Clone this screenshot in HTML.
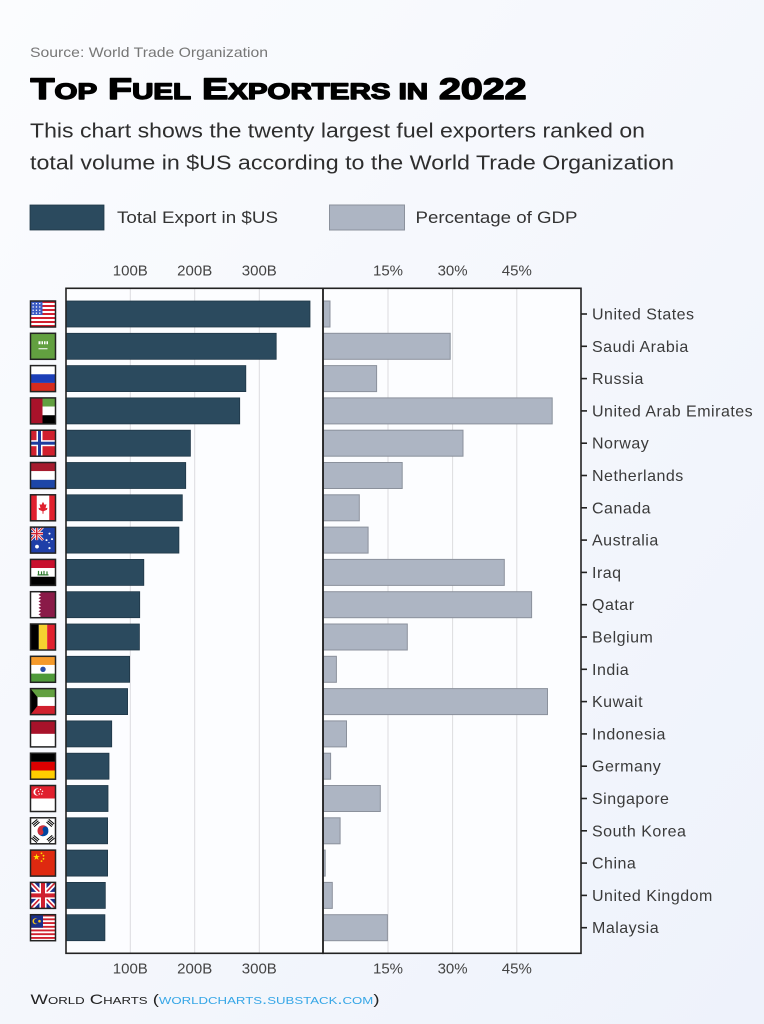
<!DOCTYPE html>
<html><head><meta charset="utf-8"><style>
html,body{margin:0;padding:0;}
body{width:764px;height:1024px;overflow:hidden;background:#f4f6fb;}
svg{display:block;}
.d{fill:#2b4a5e;stroke:#1f3747;stroke-width:0.8;}
.g{fill:#adb5c3;stroke:#8b919c;stroke-width:1;}
.tk{stroke:#222;stroke-width:1.6;}
.lb{font-family:"Liberation Sans",sans-serif;font-size:16px;fill:#3a3a3a;letter-spacing:0.5px;}
.ax{font-family:"Liberation Sans",sans-serif;font-size:15px;fill:#444;text-anchor:middle;}
.gr{stroke:#dcdcdf;stroke-width:1;}
.fb{fill:none;stroke:#222;stroke-width:1.5;}
</style></head><body>
<svg width="764" height="1024" viewBox="0 0 764 1024" xmlns="http://www.w3.org/2000/svg">
<defs>
<linearGradient id="bg" x1="0" y1="0" x2="1" y2="1">
<stop offset="0" stop-color="#fbfcfe"/><stop offset="1" stop-color="#eef2fb"/>
</linearGradient>
<clipPath id="fc"><rect x="0" y="0" width="25" height="26"/></clipPath>
</defs>
<rect width="764" height="1024" fill="url(#bg)"/>

<!-- header -->
<text x="30" y="57" font-family="Liberation Sans, sans-serif" font-size="14" fill="#777" textLength="238" lengthAdjust="spacingAndGlyphs">Source: World Trade Organization</text>
<text x="30.5" y="99" font-family="Liberation Sans, sans-serif" font-size="30" font-weight="bold" fill="#000" stroke="#000" stroke-width="1.4" stroke-linejoin="round" textLength="496" lengthAdjust="spacingAndGlyphs">T<tspan font-size="22.5">OP</tspan> F<tspan font-size="22.5">UEL</tspan> E<tspan font-size="22.5">XPORTERS IN</tspan> 2022</text>
<text x="30" y="137.5" font-family="Liberation Sans, sans-serif" font-size="20" fill="#2e2e2e" textLength="615" lengthAdjust="spacingAndGlyphs">This chart shows the twenty largest fuel exporters ranked on</text>
<text x="30" y="169.5" font-family="Liberation Sans, sans-serif" font-size="20" fill="#2e2e2e" textLength="644" lengthAdjust="spacingAndGlyphs">total volume in $US according to the World Trade Organization</text>

<!-- legend -->
<rect x="30" y="205" width="74" height="25" fill="#2b4a5e" stroke="#1f3747" stroke-width="0.8"/>
<text x="117" y="223" font-family="Liberation Sans, sans-serif" font-size="17" fill="#333" textLength="161" lengthAdjust="spacingAndGlyphs">Total Export in $US</text>
<rect x="329.5" y="205" width="75" height="25" fill="#adb5c3" stroke="#8b919c" stroke-width="1"/>
<text x="415.5" y="223" font-family="Liberation Sans, sans-serif" font-size="17" fill="#333" textLength="162" lengthAdjust="spacingAndGlyphs">Percentage of GDP</text>

<!-- plot area -->
<rect x="66" y="288.3" width="515" height="665" fill="#fcfdff"/>
<line class="gr" x1="130.3" y1="289" x2="130.3" y2="953"/>
<line class="gr" x1="194.7" y1="289" x2="194.7" y2="953"/>
<line class="gr" x1="259.3" y1="289" x2="259.3" y2="953"/>
<line class="gr" x1="388" y1="289" x2="388" y2="953"/>
<line class="gr" x1="452.6" y1="289" x2="452.6" y2="953"/>
<line class="gr" x1="516.8" y1="289" x2="516.8" y2="953"/>

<!-- axis labels -->
<text class="ax" x="130.3" y="275.5">100B</text>
<text class="ax" x="194.7" y="275.5">200B</text>
<text class="ax" x="259.3" y="275.5">300B</text>
<text class="ax" x="388" y="275.5">15%</text>
<text class="ax" x="452.6" y="275.5">30%</text>
<text class="ax" x="516.8" y="275.5">45%</text>
<text class="ax" x="130.3" y="973.5">100B</text>
<text class="ax" x="194.7" y="973.5">200B</text>
<text class="ax" x="259.3" y="973.5">300B</text>
<text class="ax" x="388" y="973.5">15%</text>
<text class="ax" x="452.6" y="973.5">30%</text>
<text class="ax" x="516.8" y="973.5">45%</text>

<!-- rows -->
<!-- 0 United States -->
<g transform="translate(0,301)">
<g transform="translate(30.5,0)"><g clip-path="url(#fc)">
<rect width="25" height="26" fill="#fff"/>
<path d="M0 0h25v2H0zM0 4h25v2H0zM0 8h25v2H0zM0 12h25v2H0zM0 16h25v2H0zM0 20h25v2H0zM0 24h25v2H0z" fill="#d22030"/>
<rect width="12" height="14" fill="#3b5bc4"/>
<g fill="#fff"><rect x="2" y="2" width="1.3" height="1.3"/><rect x="5.3" y="2" width="1.3" height="1.3"/><rect x="8.6" y="2" width="1.3" height="1.3"/><rect x="2" y="5.3" width="1.3" height="1.3"/><rect x="5.3" y="5.3" width="1.3" height="1.3"/><rect x="8.6" y="5.3" width="1.3" height="1.3"/><rect x="2" y="8.6" width="1.3" height="1.3"/><rect x="5.3" y="8.6" width="1.3" height="1.3"/><rect x="8.6" y="8.6" width="1.3" height="1.3"/><rect x="2" y="11.5" width="1.3" height="1.3"/><rect x="5.3" y="11.5" width="1.3" height="1.3"/><rect x="8.6" y="11.5" width="1.3" height="1.3"/></g>
</g><rect class="fb" width="25" height="26"/></g>
<rect class="d" x="66" y="0" width="244" height="26"/>
<rect class="g" x="323.5" y="0" width="6.5" height="26"/>
<line class="tk" x1="581" y1="13" x2="587" y2="13"/>
<text class="lb" x="592" y="18.5">United States</text>
</g>

<!-- 1 Saudi Arabia -->
<g transform="translate(0,333.3)">
<g transform="translate(30.5,0)"><g clip-path="url(#fc)">
<rect width="25" height="26" fill="#62a040"/>
<path d="M8 8h2v3H8zM11 8h1.5v3H11zM13.5 8h1.5v3h-1.5zM16 8h1.5v3H16z" fill="#fff"/>
<path d="M8 15.5h9" stroke="#fff" stroke-width="1"/>
</g><rect class="fb" width="25" height="26"/></g>
<rect class="d" x="66" y="0" width="210.2" height="26"/>
<rect class="g" x="323.5" y="0" width="126.7" height="26"/>
<line class="tk" x1="581" y1="13" x2="587" y2="13"/>
<text class="lb" x="592" y="18.5">Saudi Arabia</text>
</g>

<!-- 2 Russia -->
<g transform="translate(0,365.6)">
<g transform="translate(30.5,0)"><g clip-path="url(#fc)">
<rect width="25" height="8.67" fill="#fff"/>
<rect y="8.67" width="25" height="8.67" fill="#1c3fb8"/>
<rect y="17.33" width="25" height="8.67" fill="#d52b1e"/>
</g><rect class="fb" width="25" height="26"/></g>
<rect class="d" x="66" y="0" width="179.8" height="26"/>
<rect class="g" x="323.5" y="0" width="53.1" height="26"/>
<line class="tk" x1="581" y1="13" x2="587" y2="13"/>
<text class="lb" x="592" y="18.5">Russia</text>
</g>

<!-- 3 UAE -->
<g transform="translate(0,397.9)">
<g transform="translate(30.5,0)"><g clip-path="url(#fc)">
<rect x="12" width="13" height="8.67" fill="#62a040"/>
<rect x="12" y="8.67" width="13" height="8.67" fill="#fff"/>
<rect x="12" y="17.33" width="13" height="8.67" fill="#000"/>
<rect width="12" height="26" fill="#a8122a"/>
</g><rect class="fb" width="25" height="26"/></g>
<rect class="d" x="66" y="0" width="173.7" height="26"/>
<rect class="g" x="323.5" y="0" width="228.7" height="26"/>
<line class="tk" x1="581" y1="13" x2="587" y2="13"/>
<text class="lb" x="592" y="18.5">United Arab Emirates</text>
</g>

<!-- 4 Norway -->
<g transform="translate(0,430.2)">
<g transform="translate(30.5,0)"><g clip-path="url(#fc)">
<rect width="25" height="26" fill="#d0202e"/>
<rect x="6" width="6" height="26" fill="#fff"/><rect y="10" width="25" height="6" fill="#fff"/>
<rect x="7.5" width="3" height="26" fill="#1d3c9e"/><rect y="11.5" width="25" height="3" fill="#1d3c9e"/>
</g><rect class="fb" width="25" height="26"/></g>
<rect class="d" x="66" y="0" width="124.4" height="26"/>
<rect class="g" x="323.5" y="0" width="139.5" height="26"/>
<line class="tk" x1="581" y1="13" x2="587" y2="13"/>
<text class="lb" x="592" y="18.5">Norway</text>
</g>

<!-- 5 Netherlands -->
<g transform="translate(0,462.5)">
<g transform="translate(30.5,0)"><g clip-path="url(#fc)">
<rect width="25" height="8.67" fill="#a51b2e"/>
<rect y="8.67" width="25" height="8.67" fill="#fff"/>
<rect y="17.33" width="25" height="8.67" fill="#1d46a8"/>
</g><rect class="fb" width="25" height="26"/></g>
<rect class="d" x="66" y="0" width="119.7" height="26"/>
<rect class="g" x="323.5" y="0" width="78.7" height="26"/>
<line class="tk" x1="581" y1="13" x2="587" y2="13"/>
<text class="lb" x="592" y="18.5">Netherlands</text>
</g>

<!-- 6 Canada -->
<g transform="translate(0,494.8)">
<g transform="translate(30.5,0)"><g clip-path="url(#fc)">
<rect width="25" height="26" fill="#fff"/>
<rect width="6.25" height="26" fill="#e0202e"/><rect x="18.75" width="6.25" height="26" fill="#e0202e"/>
<polygon points="12.5,7 14,10 16,9.5 15,13.5 17,13 16.5,15 13,16.5 13,19 12,19 12,16.5 8.5,15 8,13 10,13.5 9,9.5 11,10" fill="#e0202e"/>
</g><rect class="fb" width="25" height="26"/></g>
<rect class="d" x="66" y="0" width="116.3" height="26"/>
<rect class="g" x="323.5" y="0" width="35.8" height="26"/>
<line class="tk" x1="581" y1="13" x2="587" y2="13"/>
<text class="lb" x="592" y="18.5">Canada</text>
</g>

<!-- 7 Australia -->
<g transform="translate(0,527.1)">
<g transform="translate(30.5,0)"><g clip-path="url(#fc)">
<rect width="25" height="26" fill="#1f3fa8"/>
<path d="M0,0 L12.5,13 M12.5,0 L0,13" stroke="#fff" stroke-width="2.6"/>
<path d="M0,0 L12.5,13 M12.5,0 L0,13" stroke="#d0202e" stroke-width="1"/>
<rect x="4.75" width="3" height="13" fill="#fff"/><rect y="5" width="12.5" height="3" fill="#fff"/>
<rect x="5.5" width="1.5" height="13" fill="#d0202e"/><rect y="5.75" width="12.5" height="1.5" fill="#d0202e"/>
<g fill="#fff"><circle cx="6.5" cy="19.5" r="1.9"/><circle cx="19" cy="6.5" r="1"/><circle cx="16" cy="13" r="1"/><circle cx="21.5" cy="12" r="1"/><circle cx="19" cy="21" r="1.1"/><circle cx="18.5" cy="15.5" r="0.6"/></g>
</g><rect class="fb" width="25" height="26"/></g>
<rect class="d" x="66" y="0" width="112.9" height="26"/>
<rect class="g" x="323.5" y="0" width="44.6" height="26"/>
<line class="tk" x1="581" y1="13" x2="587" y2="13"/>
<text class="lb" x="592" y="18.5">Australia</text>
</g>

<!-- 8 Iraq -->
<g transform="translate(0,559.4)">
<g transform="translate(30.5,0)"><g clip-path="url(#fc)">
<rect width="25" height="8.67" fill="#c8102e"/>
<rect y="8.67" width="25" height="8.67" fill="#fff"/>
<rect y="17.33" width="25" height="8.67" fill="#000"/>
<path d="M7 15.5h11M8 11.5v4M11 12v3.5M13.5 11.5v4M16.5 12v3.5" stroke="#2f7a2f" stroke-width="1.2"/>
</g><rect class="fb" width="25" height="26"/></g>
<rect class="d" x="66" y="0" width="77.8" height="26"/>
<rect class="g" x="323.5" y="0" width="180.8" height="26"/>
<line class="tk" x1="581" y1="13" x2="587" y2="13"/>
<text class="lb" x="592" y="18.5">Iraq</text>
</g>

<!-- 9 Qatar -->
<g transform="translate(0,591.7)">
<g transform="translate(30.5,0)"><g clip-path="url(#fc)">
<rect width="25" height="26" fill="#8a1a48"/>
<polygon points="0,0 8,0 10.5,1.6 8,3.2 10.5,4.8 8,6.5 10.5,8.1 8,9.7 10.5,11.4 8,13 10.5,14.6 8,16.2 10.5,17.9 8,19.5 10.5,21.1 8,22.7 10.5,24.4 8,26 0,26" fill="#fff"/>
</g><rect class="fb" width="25" height="26"/></g>
<rect class="d" x="66" y="0" width="73.7" height="26"/>
<rect class="g" x="323.5" y="0" width="208.1" height="26"/>
<line class="tk" x1="581" y1="13" x2="587" y2="13"/>
<text class="lb" x="592" y="18.5">Qatar</text>
</g>

<!-- 10 Belgium -->
<g transform="translate(0,624)">
<g transform="translate(30.5,0)"><g clip-path="url(#fc)">
<rect width="8.33" height="26" fill="#000"/>
<rect x="8.33" width="8.34" height="26" fill="#f5d130"/>
<rect x="16.67" width="8.33" height="26" fill="#e0202e"/>
</g><rect class="fb" width="25" height="26"/></g>
<rect class="d" x="66" y="0" width="73.4" height="26"/>
<rect class="g" x="323.5" y="0" width="83.8" height="26"/>
<line class="tk" x1="581" y1="13" x2="587" y2="13"/>
<text class="lb" x="592" y="18.5">Belgium</text>
</g>

<!-- 11 India -->
<g transform="translate(0,656.3)">
<g transform="translate(30.5,0)"><g clip-path="url(#fc)">
<rect width="25" height="8.67" fill="#f59a2b"/>
<rect y="8.67" width="25" height="8.67" fill="#fff"/>
<rect y="17.33" width="25" height="8.67" fill="#4f9a3a"/>
<circle cx="12.5" cy="13" r="2.7" fill="#2a4ea8"/>
</g><rect class="fb" width="25" height="26"/></g>
<rect class="d" x="66" y="0" width="63.6" height="26"/>
<rect class="g" x="323.5" y="0" width="12.9" height="26"/>
<line class="tk" x1="581" y1="13" x2="587" y2="13"/>
<text class="lb" x="592" y="18.5">India</text>
</g>

<!-- 12 Kuwait -->
<g transform="translate(0,688.6)">
<g transform="translate(30.5,0)"><g clip-path="url(#fc)">
<rect width="25" height="8.67" fill="#62a040"/>
<rect y="8.67" width="25" height="8.67" fill="#fff"/>
<rect y="17.33" width="25" height="8.67" fill="#d0202e"/>
<polygon points="0,0 7,8.67 7,17.33 0,26" fill="#000"/>
</g><rect class="fb" width="25" height="26"/></g>
<rect class="d" x="66" y="0" width="61.6" height="26"/>
<rect class="g" x="323.5" y="0" width="224" height="26"/>
<line class="tk" x1="581" y1="13" x2="587" y2="13"/>
<text class="lb" x="592" y="18.5">Kuwait</text>
</g>

<!-- 13 Indonesia -->
<g transform="translate(0,720.9)">
<g transform="translate(30.5,0)"><g clip-path="url(#fc)">
<rect width="25" height="13" fill="#a8122a"/>
<rect y="13" width="25" height="13" fill="#fff"/>
</g><rect class="fb" width="25" height="26"/></g>
<rect class="d" x="66" y="0" width="45.7" height="26"/>
<rect class="g" x="323.5" y="0" width="23" height="26"/>
<line class="tk" x1="581" y1="13" x2="587" y2="13"/>
<text class="lb" x="592" y="18.5">Indonesia</text>
</g>

<!-- 14 Germany -->
<g transform="translate(0,753.2)">
<g transform="translate(30.5,0)"><g clip-path="url(#fc)">
<rect width="25" height="8.67" fill="#000"/>
<rect y="8.67" width="25" height="8.67" fill="#dd0000"/>
<rect y="17.33" width="25" height="8.67" fill="#ffce00"/>
</g><rect class="fb" width="25" height="26"/></g>
<rect class="d" x="66" y="0" width="43" height="26"/>
<rect class="g" x="323.5" y="0" width="7.1" height="26"/>
<line class="tk" x1="581" y1="13" x2="587" y2="13"/>
<text class="lb" x="592" y="18.5">Germany</text>
</g>

<!-- 15 Singapore -->
<g transform="translate(0,785.5)">
<g transform="translate(30.5,0)"><g clip-path="url(#fc)">
<rect width="25" height="13" fill="#e0202e"/>
<rect y="13" width="25" height="13" fill="#fff"/>
<circle cx="6.5" cy="6.5" r="3.6" fill="#fff"/>
<circle cx="8" cy="6.5" r="3.3" fill="#e0202e"/>
<g fill="#fff"><circle cx="10" cy="4" r="0.7"/><circle cx="12" cy="5.8" r="0.7"/><circle cx="11.3" cy="8.5" r="0.7"/><circle cx="8.7" cy="8.5" r="0.7"/><circle cx="8" cy="5.8" r="0.7"/></g>
</g><rect class="fb" width="25" height="26"/></g>
<rect class="d" x="66" y="0" width="42" height="26"/>
<rect class="g" x="323.5" y="0" width="56.8" height="26"/>
<line class="tk" x1="581" y1="13" x2="587" y2="13"/>
<text class="lb" x="592" y="18.5">Singapore</text>
</g>

<!-- 16 South Korea -->
<g transform="translate(0,817.8)">
<g transform="translate(30.5,0)"><g clip-path="url(#fc)">
<rect width="25" height="26" fill="#fff"/>
<g transform="rotate(-33 12.5 13)">
<path d="M7,13 A5.5,5.5 0 0 1 18,13 Z" fill="#cd2e3a"/>
<path d="M7,13 A5.5,5.5 0 0 0 18,13 Z" fill="#0047a0"/>
<circle cx="9.75" cy="13" r="2.75" fill="#cd2e3a"/>
<circle cx="15.25" cy="13" r="2.75" fill="#0047a0"/>
</g>
<g fill="#000">
<g transform="rotate(-40 5 5)"><rect x="1.5" y="3" width="7" height="1"/><rect x="1.5" y="4.8" width="7" height="1"/><rect x="1.5" y="6.6" width="7" height="1"/></g>
<g transform="rotate(40 20 5)"><rect x="16.5" y="3" width="7" height="1"/><rect x="16.5" y="4.8" width="7" height="1"/><rect x="16.5" y="6.6" width="7" height="1"/></g>
<g transform="rotate(40 5 21)"><rect x="1.5" y="19" width="7" height="1"/><rect x="1.5" y="20.8" width="7" height="1"/><rect x="1.5" y="22.6" width="7" height="1"/></g>
<g transform="rotate(-40 20 21)"><rect x="16.5" y="19" width="7" height="1"/><rect x="16.5" y="20.8" width="7" height="1"/><rect x="16.5" y="22.6" width="7" height="1"/></g>
</g>
</g><rect class="fb" width="25" height="26"/></g>
<rect class="d" x="66" y="0" width="41.6" height="26"/>
<rect class="g" x="323.5" y="0" width="16.6" height="26"/>
<line class="tk" x1="581" y1="13" x2="587" y2="13"/>
<text class="lb" x="592" y="18.5">South Korea</text>
</g>

<!-- 17 China -->
<g transform="translate(0,850.1)">
<g transform="translate(30.5,0)"><g clip-path="url(#fc)">
<rect width="25" height="26" fill="#de2910"/>
<polygon points="6,3.5 6.79,5.92 9.33,5.92 7.27,7.41 8.06,9.83 6,8.34 3.94,9.83 4.73,7.41 2.67,5.92 5.21,5.92" fill="#ffde00"/>
<g fill="#ffde00"><circle cx="11" cy="3.2" r="0.9"/><circle cx="13" cy="5.6" r="0.9"/><circle cx="13" cy="8.8" r="0.9"/><circle cx="11" cy="11" r="0.9"/></g>
</g><rect class="fb" width="25" height="26"/></g>
<rect class="d" x="66" y="0" width="41.6" height="26"/>
<rect class="g" x="323.5" y="0" width="1.7" height="26"/>
<line class="tk" x1="581" y1="13" x2="587" y2="13"/>
<text class="lb" x="592" y="18.5">China</text>
</g>

<!-- 18 United Kingdom -->
<g transform="translate(0,882.4)">
<g transform="translate(30.5,0)"><g clip-path="url(#fc)">
<rect width="25" height="26" fill="#1a2f8a"/>
<path d="M0,0 L25,26 M25,0 L0,26" stroke="#fff" stroke-width="5"/>
<path d="M0,0 L25,26 M25,0 L0,26" stroke="#d0202e" stroke-width="1.6"/>
<rect x="9" width="7" height="26" fill="#fff"/><rect y="9.5" width="25" height="7" fill="#fff"/>
<rect x="10.5" width="4" height="26" fill="#d0202e"/><rect y="11" width="25" height="4" fill="#d0202e"/>
</g><rect class="fb" width="25" height="26"/></g>
<rect class="d" x="66" y="0" width="39.3" height="26"/>
<rect class="g" x="323.5" y="0" width="8.8" height="26"/>
<line class="tk" x1="581" y1="13" x2="587" y2="13"/>
<text class="lb" x="592" y="18.5">United Kingdom</text>
</g>

<!-- 19 Malaysia -->
<g transform="translate(0,914.7)">
<g transform="translate(30.5,0)"><g clip-path="url(#fc)">
<rect width="25" height="26" fill="#fff"/>
<path d="M0 0h25v1.86H0zM0 3.71h25v1.86H0zM0 7.43h25v1.86H0zM0 11.14h25v1.86H0zM0 14.86h25v1.86H0zM0 18.57h25v1.86H0zM0 22.29h25v1.86H0z" fill="#d0202e"/>
<rect width="12.5" height="13" fill="#1a2f8a"/>
<circle cx="5" cy="6.5" r="3" fill="#f5c518"/>
<circle cx="6" cy="6.5" r="2.5" fill="#1a2f8a"/>
<circle cx="9" cy="6.5" r="1.3" fill="#f5c518"/>
</g><rect class="fb" width="25" height="26"/></g>
<rect class="d" x="66" y="0" width="38.9" height="26"/>
<rect class="g" x="323.5" y="0" width="63.9" height="26"/>
<line class="tk" x1="581" y1="13" x2="587" y2="13"/>
<text class="lb" x="592" y="18.5">Malaysia</text>
</g>

<!-- frames -->
<rect x="66" y="288.3" width="257" height="665" fill="none" stroke="#222" stroke-width="1.6"/>
<rect x="323" y="288.3" width="258" height="665" fill="none" stroke="#222" stroke-width="1.6"/>

<!-- footer -->
<text x="30.5" y="1004" font-family="Liberation Sans, sans-serif" font-size="14" fill="#222" style="font-variant:small-caps" textLength="349" lengthAdjust="spacingAndGlyphs">World Charts (<tspan fill="#35a6e6">worldcharts.substack.com</tspan>)</text>
</svg>
</body></html>
